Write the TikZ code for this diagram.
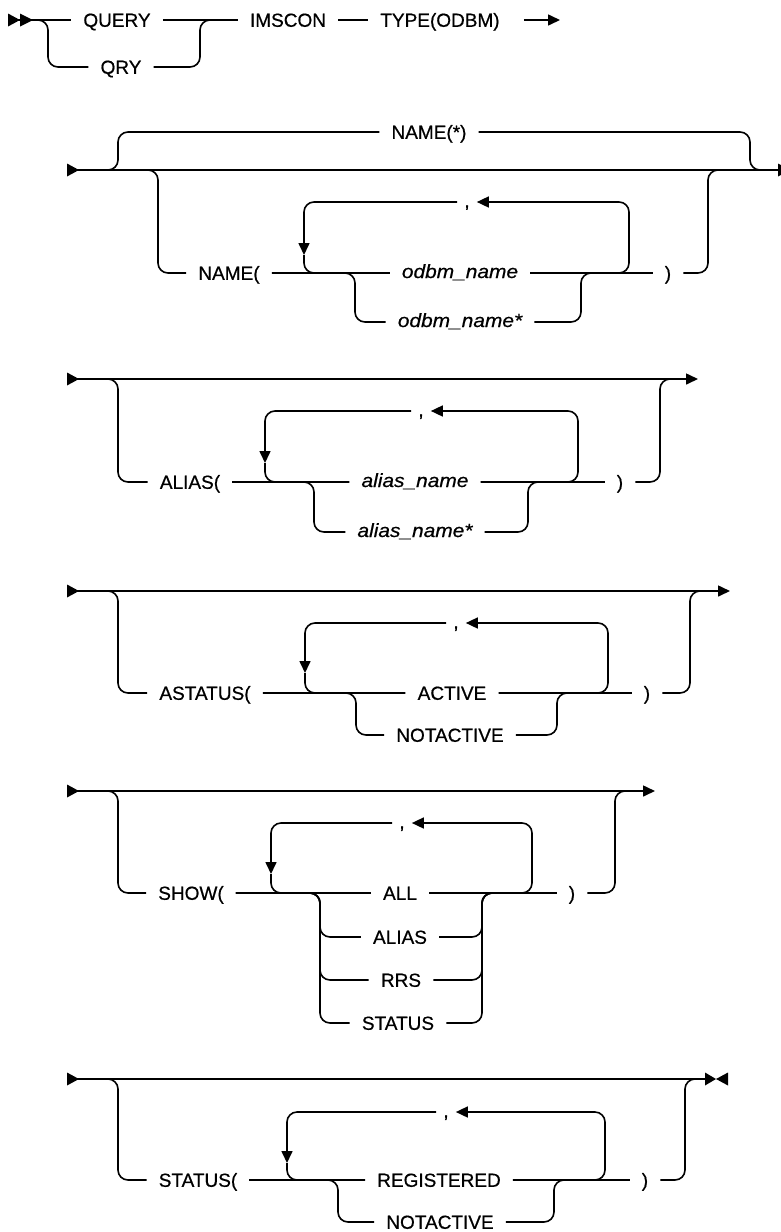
\documentclass[tikz,border=0pt]{standalone}
\usepackage{fontspec}
\setmainfont{Liberation Sans}
\newfontfamily\railfont[FakeBold=0.6]{Liberation Sans}
\newfontfamily\varfont[FakeStretch=1.1, FakeBold=0.6]{Liberation Sans}
\usetikzlibrary{arrows.meta}
\begin{document}
\begin{tikzpicture}[
  x=1pt, y=-1pt,
  rail/.style={draw=black, line width=1.6pt, rounded corners=10pt},
  kw/.style={font=\fontsize{19}{23}\railfont, inner xsep=12pt, inner ysep=0pt, text height=13.6pt, text depth=0pt},
  var/.style={font=\fontsize{19}{23}\varfont\itshape, inner xsep=12pt, inner ysep=0pt, text height=10pt, text depth=0pt},
  sepr/.style={font=\fontsize{19}{23}\railfont, inner xsep=7pt, inner ysep=0pt, text height=11pt, text depth=0pt},
  tip/.style={-{Triangle[length=12pt,width=11pt]}}
]
\useasboundingbox (0,0) rectangle (781,1232);

\coordinate (r1s) at (8,20);
\coordinate (r1a) at (48,20);
\coordinate (r1b) at (200,20);
\coordinate (r1e) at (560,20);
\node[kw] (query) at (117,20) {QUERY};
\node[kw] (qry) at (121,67) {QRY};
\node[kw] (imscon) at (288,20) {IMSCON};
\node[kw] (type) at (440,20) {TYPE(ODBM)};

\fill (r1s) ++(0,-6.5) -- ++(12,6.5) -- ++(-12,6.5) -- cycle;
\fill (r1s) ++(12,-6.5) -- ++(13,6.5) -- ++(-13,6.5) -- cycle;
\draw[rail] (r1s) -- (query.west);
\draw[rail] (r1s) -| (r1a |- qry.west) -- (qry.west);
\draw[rail] (query.east) -- (imscon.west);
\draw[rail] (qry.east) -| (r1b) -- (imscon.west);
\draw[rail] (imscon.east) -- (type.west);
\draw[rail, tip] (type.east) ++(12,0) -- (r1e);

\coordinate (r2s) at (67,170);
\coordinate (r2a) at (118,170);
\coordinate (r2b) at (750,170);
\coordinate (r2c) at (158,170);
\coordinate (r2d) at (708,170);
\coordinate (r2e) at (778,170);
\coordinate (r2f) at (355,273);
\coordinate (r2g) at (581,273);
\coordinate (r2h) at (629,202);
\coordinate (r2i) at (304,255);
\node[kw] (nameall) at (429,132) {NAME(*)};
\node[kw] (name) at (229,273) {NAME(};
\node[var] (odbm) at (460,273) {odbm\_name};
\node[var] (odbmstar) at (460,322) {odbm\_name*};
\node[kw] (rp2) at (668,273) {)};
\node[sepr] (comma2) at (467,202) {,};

\fill (r2s) ++(0,-6.5) -- ++(12,6.5) -- ++(-12,6.5) -- cycle;
\fill (r2e) ++(0,-6.5) -- ++(12,6.5) -- ++(-12,6.5) -- cycle;
\draw[rail] (r2s) -- (r2e);
\draw[rail] (r2s) -| (r2a |- nameall.west) -- (nameall.west);
\draw[rail] (nameall.east) -| (r2b) -- (r2e);
\draw[rail] (r2s) -| (r2c |- name.west) -- (name.west);
\draw[rail] (rp2.east) -| (r2d) -- (r2e);
\draw[rail] (name.east) -- (odbm.west);
\draw[rail] (odbm.east) -- (rp2.west);
\draw[rail] (name.east) -| (r2f |- odbmstar.west) -- (odbmstar.west);
\draw[rail] (odbmstar.east) -| (r2g) -- (rp2.west);
\draw[rail, tip] (odbm.east) -| (r2h) -- (comma2.east);
\draw[rail, tip] (comma2.west) -| (r2i);
\draw[rail] (r2i) |- (odbm.west);

\coordinate (r3s) at (67,379);
\coordinate (r3a) at (118,379);
\coordinate (r3b) at (660,379);
\coordinate (r3e) at (698,379);
\coordinate (r3f) at (314,482);
\coordinate (r3g) at (528,482);
\coordinate (r3h) at (578,411);
\coordinate (r3i) at (265,463);
\node[kw] (alias) at (190,482) {ALIAS(};
\node[var] (aname) at (415,482) {alias\_name};
\node[var] (anamestar) at (415,532) {alias\_name*};
\node[kw] (rp3) at (620,482) {)};
\node[sepr] (comma3) at (421,411) {,};

\fill (r3s) ++(0,-6.5) -- ++(12,6.5) -- ++(-12,6.5) -- cycle;
\draw[rail, tip] (r3s) -- (r3e);
\draw[rail] (r3s) -| (r3a |- alias.west) -- (alias.west);
\draw[rail] (rp3.east) -| (r3b) -- ++(12,0);
\draw[rail] (alias.east) -- (aname.west);
\draw[rail] (aname.east) -- (rp3.west);
\draw[rail] (alias.east) -| (r3f |- anamestar.west) -- (anamestar.west);
\draw[rail] (anamestar.east) -| (r3g) -- (rp3.west);
\draw[rail, tip] (aname.east) -| (r3h) -- (comma3.east);
\draw[rail, tip] (comma3.west) -| (r3i);
\draw[rail] (r3i) |- (aname.west);

\coordinate (r4s) at (67,591);
\coordinate (r4a) at (118,591);
\coordinate (r4b) at (690,591);
\coordinate (r4e) at (730,591);
\coordinate (r4f) at (356,693);
\coordinate (r4g) at (557,693);
\coordinate (r4h) at (608,623);
\coordinate (r4i) at (305,673);
\node[kw] (astatus) at (205,693) {ASTATUS(};
\node[kw] (active) at (452,693) {ACTIVE};
\node[kw] (notactive4) at (450,735) {NOTACTIVE};
\node[kw] (rp4) at (647,693) {)};
\node[sepr] (comma4) at (456,623) {,};

\fill (r4s) ++(0,-6.5) -- ++(12,6.5) -- ++(-12,6.5) -- cycle;
\draw[rail, tip] (r4s) -- (r4e);
\draw[rail] (r4s) -| (r4a |- astatus.west) -- (astatus.west);
\draw[rail] (rp4.east) -| (r4b) -- ++(12,0);
\draw[rail] (astatus.east) -- (active.west);
\draw[rail] (active.east) -- (rp4.west);
\draw[rail] (astatus.east) -| (r4f |- notactive4.west) -- (notactive4.west);
\draw[rail] (notactive4.east) -| (r4g) -- (rp4.west);
\draw[rail, tip] (active.east) -| (r4h) -- (comma4.east);
\draw[rail, tip] (comma4.west) -| (r4i);
\draw[rail] (r4i) |- (active.west);

\coordinate (r5s) at (67,791);
\coordinate (r5a) at (118,791);
\coordinate (r5b) at (615,791);
\coordinate (r5e) at (655,791);
\coordinate (r5f) at (320,893);
\coordinate (r5g) at (482,893);
\coordinate (r5h) at (532,823);
\coordinate (r5i) at (271,874);
\node[kw] (show) at (191,893) {SHOW(};
\node[kw] (all) at (400,893) {ALL};
\node[kw] (alias5) at (400,937) {ALIAS};
\node[kw] (rrs) at (401,980) {RRS};
\node[kw] (status5) at (398,1023) {STATUS};
\node[kw] (rp5) at (572,893) {)};
\node[sepr] (comma5) at (402,823) {,};

\fill (r5s) ++(0,-6.5) -- ++(12,6.5) -- ++(-12,6.5) -- cycle;
\draw[rail, tip] (r5s) -- (r5e);
\draw[rail] (r5s) -| (r5a |- show.west) -- (show.west);
\draw[rail] (rp5.east) -| (r5b) -- ++(12,0);
\draw[rail] (show.east) -- (all.west);
\draw[rail] (all.east) -- (rp5.west);
\draw[rail] (show.east) -| (r5f |- alias5.west) -- (alias5.west);
\draw[rail] (show.east) -| (r5f |- rrs.west) -- (rrs.west);
\draw[rail] (show.east) -| (r5f |- status5.west) -- (status5.west);
\draw[rail] (alias5.east) -| (r5g) -- (rp5.west);
\draw[rail] (rrs.east) -| (r5g) -- (rp5.west);
\draw[rail] (status5.east) -| (r5g) -- (rp5.west);
\draw[rail, tip] (all.east) -| (r5h) -- (comma5.east);
\draw[rail, tip] (comma5.west) -| (r5i);
\draw[rail] (r5i) |- (all.west);

\coordinate (r6s) at (67,1079);
\coordinate (r6a) at (118,1079);
\coordinate (r6b) at (685,1079);
\coordinate (r6e) at (705,1079);
\coordinate (r6f) at (338,1180);
\coordinate (r6g) at (554,1180);
\coordinate (r6h) at (605,1112);
\coordinate (r6i) at (287,1163);
\node[kw] (status6) at (198,1180) {STATUS(};
\node[kw] (registered) at (439,1180) {REGISTERED};
\node[kw] (notactive6) at (440,1222) {NOTACTIVE};
\node[kw] (rp6) at (645,1180) {)};
\node[sepr] (comma6) at (446,1112) {,};

\fill (r6s) ++(0,-6.5) -- ++(12,6.5) -- ++(-12,6.5) -- cycle;
\fill (r6e) ++(0,-6.5) -- ++(11,6.5) -- ++(-11,6.5) -- cycle;
\fill (r6e) ++(23,-6.5) -- ++(-12,6.5) -- ++(12,6.5) -- cycle;
\draw[rail] (r6s) -- (r6e);
\draw[rail] (r6s) -| (r6a |- status6.west) -- (status6.west);
\draw[rail] (rp6.east) -| (r6b) -- (r6e);
\draw[rail] (status6.east) -- (registered.west);
\draw[rail] (registered.east) -- (rp6.west);
\draw[rail] (status6.east) -| (r6f |- notactive6.west) -- (notactive6.west);
\draw[rail] (notactive6.east) -| (r6g) -- (rp6.west);
\draw[rail, tip] (registered.east) -| (r6h) -- (comma6.east);
\draw[rail, tip] (comma6.west) -| (r6i);
\draw[rail] (r6i) |- (registered.west);
\end{tikzpicture}
\end{document}
